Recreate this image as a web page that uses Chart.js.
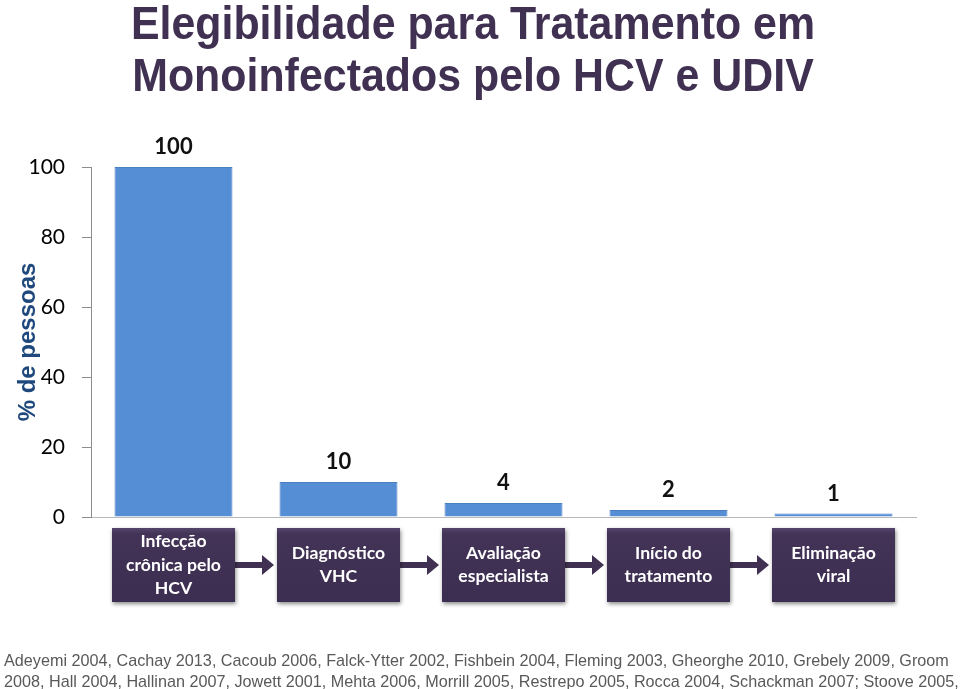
<!DOCTYPE html>
<html>
<head>
<meta charset="utf-8">
<script src="https://cdn.jsdelivr.net/npm/chart.js@4/dist/chart.umd.min.js"></script>
<style>
  html, body { margin:0; padding:0; background:#fff; }
  #wrap { position:relative; width:960px; height:689px; overflow:hidden; }
  #c { position:absolute; left:0; top:0; }
  #title { position:absolute; left:0; top:-3px; width:946px; text-align:center;
           font-family:"Liberation Sans",Arial,sans-serif;
           font-weight:bold; font-size:44px; line-height:50px; color:#403152;
           transform: scale(0.975, 1.04); transform-origin: 473px 0; }
  #refs { position:absolute; left:4px; top:650px; white-space:nowrap;
          font-family:"Liberation Sans",Arial,sans-serif; font-size:16.2px; line-height:21px; color:#595959; }
</style>
</head>
<body>
<div id="wrap">
  <canvas id="c" width="960" height="689"></canvas>
  <div id="title">Elegibilidade para Tratamento em<br>Monoinfectados pelo HCV e UDIV</div>
  <div id="refs">Adeyemi 2004, Cachay 2013, Cacoub 2006, Falck-Ytter 2002, Fishbein 2004, Fleming 2003, Gheorghe 2010, Grebely 2009, Groom<br>2008, Hall 2004, Hallinan 2007, Jowett 2001, Mehta 2006, Morrill 2005, Restrepo 2005, Rocca 2004, Schackman 2007; Stoove 2005,</div>
</div>
<script>
const categories = [
  ['Infecção', 'crônica pelo', 'HCV'],
  ['Diagnóstico', 'VHC'],
  ['Avaliação', 'especialista'],
  ['Início do', 'tratamento'],
  ['Eliminação', 'viral']
];
const values = [100, 10, 4, 2, 1];
const yTicks = [0, 20, 40, 60, 80, 100];
const yAxisTitle = '% de pessoas';

const BOX_COLOR = '#403152';

const flowPlugin = {
  id: 'flow',
  afterDatasetsDraw(chart) {
    const ctx = chart.ctx;
    const meta = chart.getDatasetMeta(0);
    const yScale = chart.scales.y;
    // value labels
    ctx.save();
    ctx.font = 'bold 22px Lato, "Open Sans", sans-serif';
    ctx.fillStyle = '#111';
    ctx.textAlign = 'center';
    ctx.textBaseline = 'middle';
    meta.data.forEach((bar, i) => {
      ctx.fillText(String(values[i]), bar.x, yScale.getPixelForValue(values[i]) - 20);
    });
    ctx.restore();

    // boxes
    const boxW = 123, boxTop = yScale.bottom + 11, boxH = 74;
    const midY = boxTop + boxH / 2;
    const boxes = meta.data.map(bar => ({ l: bar.x - boxW / 2, r: bar.x + boxW / 2 }));
    // arrows
    ctx.save();
    ctx.fillStyle = BOX_COLOR;
    for (let i = 0; i < boxes.length - 1; i++) {
      const x0 = boxes[i].r, x1 = boxes[i + 1].l - 3;
      const headW = 12, headH = 20, shaft = 6;
      ctx.fillRect(x0, midY - shaft / 2, (x1 - headW) - x0, shaft);
      ctx.beginPath();
      ctx.moveTo(x1 - headW, midY - headH / 2);
      ctx.lineTo(x1, midY);
      ctx.lineTo(x1 - headW, midY + headH / 2);
      ctx.closePath();
      ctx.fill();
    }
    ctx.restore();

    boxes.forEach((b, i) => {
      ctx.save();
      ctx.shadowColor = 'rgba(0,0,0,0.45)';
      ctx.shadowBlur = 4;
      ctx.shadowOffsetX = 1;
      ctx.shadowOffsetY = 2;
      const g = ctx.createLinearGradient(0, boxTop, 0, boxTop + boxH);
      g.addColorStop(0, '#54446b');
      g.addColorStop(0.08, '#433457');
      g.addColorStop(1, '#3c2e50');
      ctx.fillStyle = g;
      ctx.fillRect(b.l, boxTop, boxW, boxH);
      ctx.restore();
      ctx.save();
      ctx.font = 'bold 17.6px Lato, "Open Sans", sans-serif';
      ctx.fillStyle = '#ffffff';
      ctx.textAlign = 'center';
      ctx.textBaseline = 'middle';
      const lines = categories[i];
      const lh = 23.5;
      const start = midY - (lines.length - 1) * lh / 2;
      lines.forEach((t, k) => ctx.fillText(t, (b.l + b.r) / 2, start + k * lh));
      ctx.restore();
    });
  }
};

new Chart(document.getElementById('c'), {
  type: 'bar',
  data: {
    labels: categories,
    datasets: [{
      data: values,
      backgroundColor: '#558ed5',
      borderColor: '#4a7fc2',
      borderWidth: 1,
      barPercentage: 0.715,
      categoryPercentage: 1
    }]
  },
  options: {
    responsive: false,
    animation: false,
    events: [],
    layout: { padding: { top: 167, bottom: 172, left: 0, right: 44 } },
    plugins: { legend: { display: false }, tooltip: { enabled: false }, title: { display: false } },
    scales: {
      x: {
        grid: { display: false },
        ticks: { display: false },
        border: { display: true, color: '#b8b8b8', width: 1 },
        afterFit(s) { s.height = 0; }
      },
      y: {
        min: 0, max: 100,
        afterBuildTicks(s) { s.ticks = yTicks.map(v => ({ value: v })); },
        afterFit(s) { s.width = 91; },
        grid: { drawOnChartArea: false, drawTicks: true, tickLength: 9, color: '#8c8c8c' },
        border: { display: true, color: '#8c8c8c', width: 1 },
        ticks: { color: '#000', padding: 17, font: { family: 'Lato, "Open Sans", sans-serif', size: 21 } },
        title: {
          display: true, text: yAxisTitle, color: '#1f497d',
          padding: { top: 14, bottom: 0 },
          font: { family: '"Liberation Sans", Arial, sans-serif', size: 24, weight: 'bold' }
        }
      }
    }
  },
  plugins: [flowPlugin]
});
</script>
</body>
</html>
